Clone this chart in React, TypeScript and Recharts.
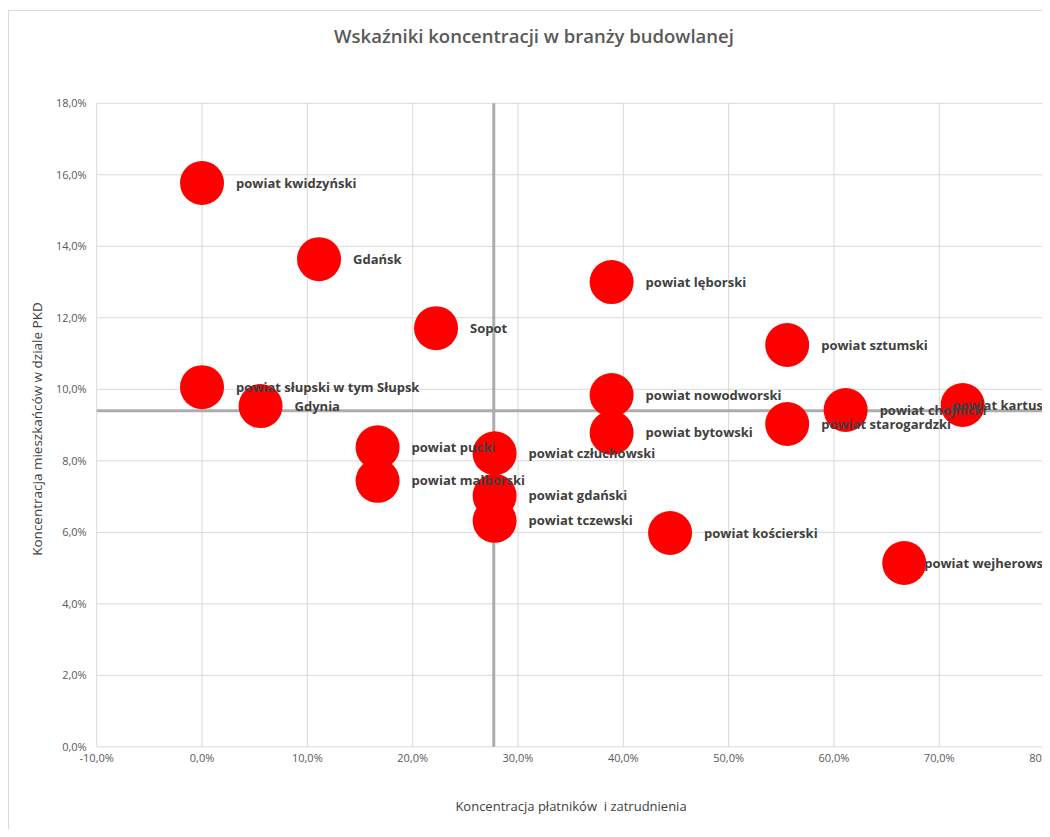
import React from 'react';
import {
  ScatterChart,
  Scatter,
  XAxis,
  YAxis,
  CartesianGrid,
  ReferenceLine,
  LabelList,
} from 'recharts';

const names = [
  'powiat kwidzyński',
  'Gdańsk',
  'powiat lęborski',
  'Sopot',
  'powiat sztumski',
  'powiat słupski w tym Słupsk',
  'Gdynia',
  'powiat nowodworski',
  'powiat chojnicki',
  'powiat kartuski',
  'powiat starogardzki',
  'powiat bytowski',
  'powiat pucki',
  'powiat człuchowski',
  'powiat malborski',
  'powiat gdański',
  'powiat tczewski',
  'powiat kościerski',
  'powiat wejherowski',
];

const payerConcentration = [
  0.0, 0.1111, 0.3889, 0.2222, 0.5556, 0.0, 0.0556, 0.3889, 0.6111, 0.7222,
  0.5556, 0.3889, 0.1667, 0.2778, 0.1667, 0.2778, 0.2778, 0.4444, 0.6667,
];

const residentConcentration = [
  0.1577, 0.1364, 0.13, 0.1171, 0.1124, 0.1006, 0.0953, 0.0984, 0.0942, 0.0956,
  0.0903, 0.0878, 0.0838, 0.0821, 0.0744, 0.0702, 0.0632, 0.0598, 0.0514,
];

const xTicks = [-0.1, 0, 0.1, 0.2, 0.3, 0.4, 0.5, 0.6, 0.7, 0.8];
const yTicks = [0, 0.02, 0.04, 0.06, 0.08, 0.1, 0.12, 0.14, 0.16, 0.18];

const meanX = 0.277;
const meanY = 0.094;

const title = 'Wskaźniki koncentracji w branży budowlanej';
const xTitle = 'Koncentracja płatników  i zatrudnienia';
const yTitle = 'Koncentracja mieszkańców w dziale PKD';

const data = names.map((name, i) => ({
  name,
  x: payerConcentration[i],
  y: residentConcentration[i],
}));

const pct = (v: number) => (v * 100).toFixed(1).replace('.', ',') + '%';

const FONT = '"Open Sans", "Liberation Sans", sans-serif';
const R = 22;
const LABEL_FONT = `700 13px ${FONT}`;
// right edge of the (wider, clipped) chart area, in chart pixels
const LABEL_BOUND = 1047;

let measureCtx: CanvasRenderingContext2D | null = null;
const measure = (s: string) => {
  if (typeof document === 'undefined') return s.length * 7;
  if (!measureCtx) {
    const c = document.createElement('canvas');
    measureCtx = c.getContext('2d');
  }
  if (!measureCtx) return s.length * 7;
  measureCtx.font = LABEL_FONT;
  return measureCtx.measureText(s).width;
};

const Dot = (props: any) => {
  const { cx, cy } = props;
  if (cx == null || cy == null) return null;
  return <circle cx={cx} cy={cy} r={R} fill="#ff0000" />;
};

const PointLabel = (props: any) => {
  const { x, y, width, height, value, viewBox } = props;
  const vb = viewBox || { x, y, width, height };
  const cx = Number(vb.x) + Number(vb.width || 0) / 2;
  const cy = Number(vb.y) + Number(vb.height || 0) / 2;
  if (!isFinite(cx) || !isFinite(cy)) return null;
  const text = String(value);
  const w = measure(text);
  let tx = cx + 34;
  if (tx + w > LABEL_BOUND) tx = LABEL_BOUND - w;
  return (
    <text
      x={tx}
      y={cy}
      dy="0.35em"
      textAnchor="start"
      fill="#404040"
      fontSize={13}
      fontWeight={700}
      fontFamily={FONT}
      style={{ whiteSpace: 'pre' }}
    >
      {text}
    </text>
  );
};

export default function App() {
  return (
    <div
      style={{
        position: 'relative',
        width: 1042,
        height: 821,
        overflow: 'hidden',
        fontFamily: FONT,
        background: '#ffffff',
      }}
    >
      <style>{'body{overflow:hidden}'}</style>
      <div
        style={{
          position: 'absolute',
          left: 0,
          top: 2,
          width: 1100,
          height: 900,
          border: '1px solid #d9d9d9',
          boxSizing: 'border-box',
        }}
      />
      <div
        style={{
          position: 'absolute',
          left: 0,
          width: 1052,
          top: 16,
          lineHeight: '24px',
          textAlign: 'center',
          fontSize: 18.5,
          fontWeight: 600,
          color: '#595959',
          whiteSpace: 'nowrap',
        }}
      >
        {title}
      </div>
      <div
        style={{
          position: 'absolute',
          left: 563,
          top: 798,
          transform: 'translate(-50%, -50%)',
          fontSize: 13,
          color: '#404040',
          whiteSpace: 'pre',
          lineHeight: '16px',
        }}
      >
        {xTitle}
      </div>
      <div
        style={{
          position: 'absolute',
          left: 29,
          top: 421,
          transform: 'translate(-50%, -50%) rotate(-90deg)',
          fontSize: 13.5,
          color: '#404040',
          whiteSpace: 'pre',
          lineHeight: '16px',
        }}
      >
        {yTitle}
      </div>
      <div style={{ position: 'absolute', left: 0, top: 0 }}>
        <ScatterChart
          width={1042}
          height={821}
          margin={{ top: 95.3, right: 5.4, bottom: 0, left: 0 }}
        >
          <CartesianGrid stroke="#d9d9d9" strokeWidth={1} />
          <XAxis
            type="number"
            dataKey="x"
            domain={[-0.1, 0.8]}
            ticks={xTicks}
            tickFormatter={pct}
            axisLine={false}
            tickLine={false}
            tickSize={0}
            tickMargin={7}
            height={82.2}
            interval={0}
            tick={{ fill: '#595959', fontSize: 11, fontFamily: FONT }}
            allowDataOverflow
          />
          <YAxis
            type="number"
            dataKey="y"
            domain={[0, 0.18]}
            ticks={yTicks}
            tickFormatter={pct}
            axisLine={false}
            tickLine={false}
            tickSize={0}
            tickMargin={10}
            width={88.7}
            interval={0}
            tick={{ fill: '#595959', fontSize: 11, fontFamily: FONT }}
            allowDataOverflow
          />
          <ReferenceLine x={meanX} stroke="#acacac" strokeWidth={3} />
          <ReferenceLine y={meanY} stroke="#acacac" strokeWidth={3} />
          <Scatter
            data={data}
            fill="#ff0000"
            shape={Dot}
            isAnimationActive={false}
          >
            <LabelList dataKey="name" content={PointLabel} />
          </Scatter>
        </ScatterChart>
      </div>
    </div>
  );
}
